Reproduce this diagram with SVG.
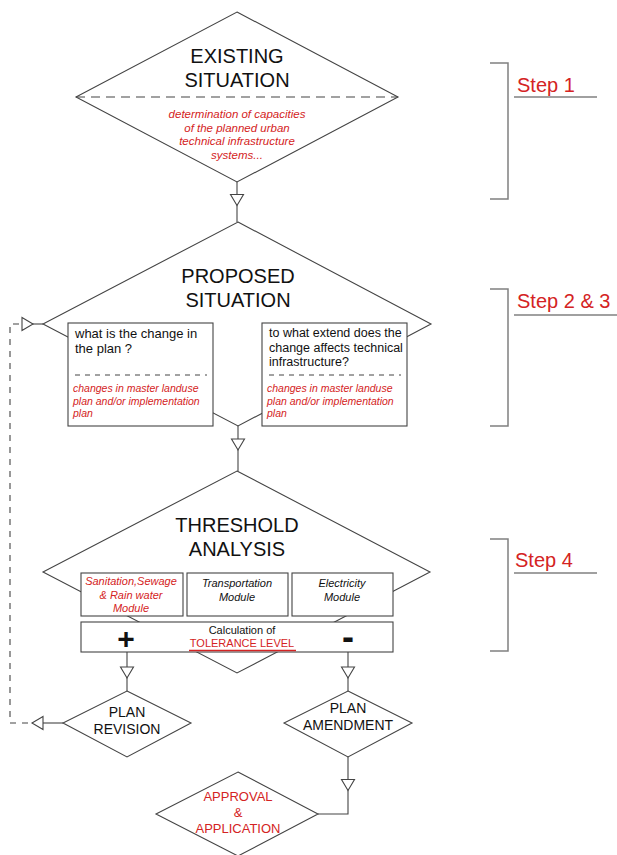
<svg xmlns="http://www.w3.org/2000/svg" xmlns:xlink="http://www.w3.org/1999/xlink" width="617" height="855" viewBox="0 0 617 855">
<style>
.shape{fill:#fff;stroke:#444;stroke-width:1.1}
.line{fill:none;stroke:#444;stroke-width:1.1}
.dash{fill:none;stroke:#444;stroke-width:1.1;stroke-dasharray:6 6}
.bdash{fill:none;stroke:#444;stroke-width:1;stroke-dasharray:5 5}
.bracket{fill:none;stroke:#808080;stroke-width:1.5}
.t{font-family:"Liberation Sans",Arial,sans-serif;fill:#111;text-anchor:middle}
.big{font-size:20px}
.red{fill:#d42323}
.it{font-style:italic}
.step{font-family:"Liberation Sans",Arial,sans-serif;font-size:20px;fill:#d42323}
</style>
<defs>
<polygon id="tri" points="-6.5,-5.5 6.5,-5.5 0,5.5" fill="#fff" stroke="#444" stroke-width="1.1"/>
</defs>
<rect width="617" height="855" fill="#fff"/>

<g id="connectors">
<line class="line" x1="237" y1="182" x2="237" y2="222"/>
<use xlink:href="#tri" href="#tri" transform="translate(237,200)"/>
<line class="line" x1="238" y1="426" x2="238" y2="471"/>
<use xlink:href="#tri" href="#tri" transform="translate(238,444.5)"/>
<line class="line" x1="127" y1="652" x2="127" y2="691"/>
<use xlink:href="#tri" href="#tri" transform="translate(127,672.5)"/>
<line class="line" x1="348" y1="652" x2="348" y2="691"/>
<use xlink:href="#tri" href="#tri" transform="translate(348,672.5)"/>
<polyline class="line" points="348,757 348,814 318,814"/>
<use xlink:href="#tri" href="#tri" transform="translate(348,785)"/>
<line class="line" x1="63" y1="723" x2="32" y2="723"/>
<use xlink:href="#tri" href="#tri" transform="translate(37.5,723) rotate(90)"/>
<polyline class="dash" points="28,723 10,723 10,324 22,324"/>
<line class="line" x1="22" y1="324" x2="43" y2="324"/>
<use xlink:href="#tri" href="#tri" transform="translate(27.5,324) rotate(-90)"/>
</g>

<g id="existing">
<polygon class="shape" points="237,12 398,97 237,182 76,97"/>
<line class="line" x1="76" y1="97" x2="398" y2="97" stroke-dasharray="9 6"/>
<text class="t big" x="237" y="63">EXISTING</text>
<text class="t big" x="237" y="87">SITUATION</text>
<g class="t red it" font-size="11.5">
<text x="237" y="118">determination of  capacities</text>
<text x="237" y="131.5">of the planned urban</text>
<text x="237" y="145">technical infrastructure</text>
<text x="237" y="158.5">systems...</text>
</g>
</g>

<g id="proposed">
<polygon class="shape" points="238,222 431,324 238,426 43,324"/>
<text class="t big" x="238" y="283">PROPOSED</text>
<text class="t big" x="238" y="307">SITUATION</text>
<g id="box-change">
<rect class="shape" x="68" y="323" width="145" height="103"/>
<line class="bdash" x1="75" y1="375" x2="207" y2="375"/>
<text class="t" x="75" y="338" font-size="13" style="text-anchor:start">what is the change in</text>
<text class="t" x="75" y="353" font-size="13" style="text-anchor:start">the plan ?</text>
<g class="t red it" font-size="10.5" style="text-anchor:start">
<text x="73" y="392">changes in master landuse</text>
<text x="73" y="404.5">plan and/or implementation</text>
<text x="73" y="417">plan</text>
</g>
</g>
<g id="box-extent">
<rect class="shape" x="262" y="323" width="145" height="103"/>
<line class="bdash" x1="269" y1="375" x2="401" y2="375"/>
<g class="t" font-size="12.5" style="text-anchor:start">
<text x="269" y="337">to what extend does the</text>
<text x="269" y="351.5">change affects technical</text>
<text x="269" y="366">infrastructure?</text>
</g>
<g class="t red it" font-size="10.5" style="text-anchor:start">
<text x="267" y="392">changes in master landuse</text>
<text x="267" y="404.5">plan and/or implementation</text>
<text x="267" y="417">plan</text>
</g>
</g>
</g>

<g id="threshold">
<polygon class="shape" points="237,471 430,572 237,673 43,572"/>
<text class="t big" x="237" y="532">THRESHOLD</text>
<text class="t big" x="237" y="556">ANALYSIS</text>
<g id="mod-sanitation">
<rect class="shape" x="81" y="573" width="102" height="43"/>
<g class="t red it" font-size="11">
<text x="131" y="585">Sanitation,Sewage</text>
<text x="131" y="599">&amp; Rain water</text>
<text x="131" y="612">Module</text>
</g>
</g>
<g id="mod-transport">
<rect class="shape" x="187" y="573" width="101" height="43"/>
<g class="t it" font-size="11">
<text x="237" y="587">Transportation</text>
<text x="237" y="601">Module</text>
</g>
</g>
<g id="mod-electricity">
<rect class="shape" x="292" y="573" width="101" height="43"/>
<g class="t it" font-size="11">
<text x="342" y="587">Electricity</text>
<text x="342" y="601">Module</text>
</g>
</g>
<g id="calc">
<rect class="shape" x="81" y="622" width="312" height="30"/>
<text class="t" x="242" y="634" font-size="11">Calculation of</text>
<text class="t red" x="242" y="647" font-size="11">TOLERANCE LEVEL</text>
<line x1="189" y1="650.5" x2="296" y2="650.5" stroke="#d42323" stroke-width="1.5"/>
<text class="t" x="126" y="649" font-size="30" font-weight="bold">+</text>
<text class="t" x="348" y="649" font-size="36" font-weight="bold">-</text>
</g>
</g>

<g id="revision">
<polygon class="shape" points="127,691 191,723 127,757 63,723"/>
<text class="t" x="127" y="717" font-size="14">PLAN</text>
<text class="t" x="127" y="734" font-size="14">REVISION</text>
</g>

<g id="amendment">
<polygon class="shape" points="348,691 412,723 348,757 284,723"/>
<text class="t" x="348" y="713" font-size="14">PLAN</text>
<text class="t" x="348" y="730" font-size="14">AMENDMENT</text>
</g>

<g id="approval">
<polygon class="shape" points="238,772 318,814 238,856 156,814"/>
<g class="t red" font-size="13">
<text x="238" y="801">APPROVAL</text>
<text x="238" y="817">&amp;</text>
<text x="238" y="833">APPLICATION</text>
</g>
</g>

<g id="step1">
<polyline class="bracket" points="490,63 508,63 508,199 490,199"/>
<text class="step" x="517" y="92">Step 1</text>
<line x1="514" y1="97" x2="597" y2="97" stroke="#808080" stroke-width="1.5"/>
</g>
<g id="step23">
<polyline class="bracket" points="490,289 508,289 508,426 490,426"/>
<text class="step" x="517" y="308">Step 2 &amp; 3</text>
<line x1="514" y1="315" x2="617" y2="315" stroke="#808080" stroke-width="1.5"/>
</g>
<g id="step4">
<polyline class="bracket" points="490,539 508,539 508,651 490,651"/>
<text class="step" x="515" y="567">Step 4</text>
<line x1="514" y1="573" x2="597" y2="573" stroke="#808080" stroke-width="1.5"/>
</g>
</svg>
